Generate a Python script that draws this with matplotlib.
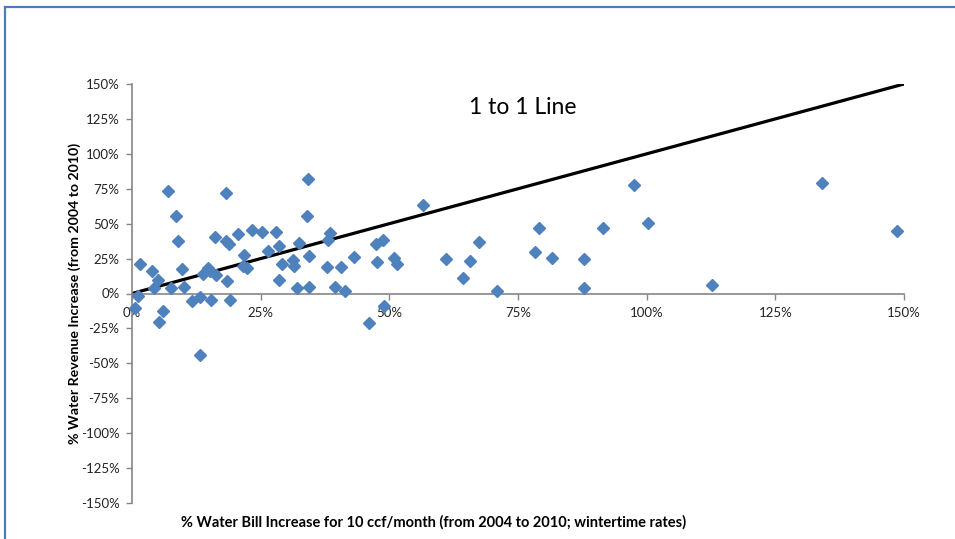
import matplotlib
matplotlib.use("Agg")
import matplotlib.pyplot as plt
from matplotlib.lines import Line2D

plt.rcParams['font.family'] = ['Lato', 'DejaVu Sans']

bill_increase = [0.5, 1.2, 1.55, 3.9, 4.3, 5.0, 5.2, 6.0, 6.9, 7.5, 8.5, 9.0, 9.8, 10.2,
                 11.6, 13.2, 13.2, 13.7, 14.7, 15.2, 15.3, 16.1, 16.3, 18.3, 18.3, 18.5,
                 18.8, 19.0, 20.6, 21.6, 21.8, 22.3, 23.3, 25.3, 26.5, 28.0, 28.6, 28.6,
                 29.2, 31.2, 31.5, 32.1, 32.4, 34.0, 34.1, 34.3, 34.4, 37.8, 38.1, 38.5,
                 39.4, 40.7, 41.3, 43.1, 46.1, 47.4, 47.7, 48.7, 49.0, 51.0, 51.4, 56.5,
                 61.1, 64.4, 65.7, 67.5, 71.0, 78.4, 79.0, 81.6, 87.8, 87.8, 91.6, 97.5,
                 100.3, 112.6, 134.1, 148.6]
revenue_increase = [-10.2, -1.9, 21.4, 15.9, 4.0, 9.5, -20.5, -12.6, 73.6, 4.0, 55.2, 37.9,
                    17.6, 4.8, -5.5, -2.4, -44.3, 14.3, 18.3, 15.9, -4.8, 40.5, 12.9, 71.9,
                    37.9, 8.6, 35.7, -4.8, 42.9, 19.5, 27.4, 18.3, 45.7, 43.8, 30.7, 43.8,
                    34.3, 9.5, 21.4, 23.8, 19.5, 4.0, 36.2, 55.7, 81.9, 26.7, 4.8, 18.8,
                    38.6, 43.3, 4.8, 18.8, 1.7, 26.4, -20.9, 35.7, 22.4, 38.3, -9.0, 25.5,
                    21.4, 63.6, 24.8, 10.9, 23.6, 37.1, 1.7, 29.8, 46.7, 25.5, 24.8, 4.0,
                    46.7, 77.9, 50.7, 5.9, 78.8, 44.8]
line_x = [0, 150]
line_y = [0, 150]
x_ticks = [0, 25, 50, 75, 100, 125, 150]
y_ticks = [-150, -125, -100, -75, -50, -25, 0, 25, 50, 75, 100, 125, 150]

W, H = 955, 539
fig = plt.figure(figsize=(W / 100, H / 100), dpi=100)
ax = fig.add_axes([132 / W, 1 - 503 / H, (904 - 132) / W, (503 - 84) / H])

grey = '#868686'
ax.plot(line_x, line_y, color='black', lw=2.3, zorder=2, solid_capstyle='butt')
ax.plot(bill_increase, revenue_increase, linestyle='none', marker='D', ms=5.8,
        color='#4F81BD', markeredgecolor='#4F81BD', zorder=3, clip_on=False)

ax.set_xlim(0, 150)
ax.set_ylim(-150, 150)
ax.spines['top'].set_visible(False)
ax.spines['right'].set_visible(False)
ax.spines['bottom'].set_position(('data', 0))
ax.spines['left'].set_color(grey)
ax.spines['bottom'].set_color(grey)
ax.spines['left'].set_linewidth(1.2)
ax.spines['bottom'].set_linewidth(1.2)

ax.set_xticks(x_ticks)
ax.set_xticklabels([f"{t}%" for t in x_ticks])
ax.set_yticks(y_ticks)
ax.set_yticklabels([f"{t}%" for t in y_ticks])
ax.tick_params(axis='both', direction='out', length=4, width=1, color=grey,
               labelsize=9.5, labelcolor='#222222')
ax.tick_params(axis='x', pad=6)
ax.tick_params(axis='y', pad=5)

fig.text(75 / W, 1 - 293 / H, '% Water Revenue Increase (from 2004 to 2010)',
         rotation=90, ha='center', va='center', fontsize=10.2, fontweight='bold')
fig.text(181 / W, 1 - 522 / H,
         '% Water Bill Increase for 10 ccf/month (from 2004 to 2010; wintertime rates)',
         ha='left', va='center', fontsize=10.5, fontweight='bold')
fig.text(523 / W, 1 - 108 / H, '1 to 1 Line', ha='center', va='center', fontsize=16.5)

frame_col = '#4A7EBB'
fig.add_artist(Line2D([4.5 / W, 4.5 / W], [0, 1 - 6.5 / H], color=frame_col, lw=1.6,
                      transform=fig.transFigure))
fig.add_artist(Line2D([4.5 / W, 1], [1 - 6.5 / H, 1 - 6.5 / H], color=frame_col, lw=1.6,
                      transform=fig.transFigure))

fig.savefig('out.png', dpi=100)
